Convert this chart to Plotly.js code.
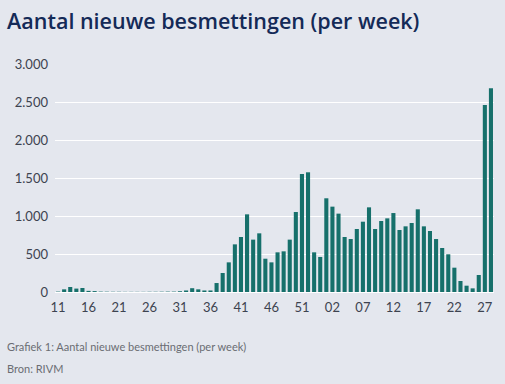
<!DOCTYPE html>
<html>
<head>
<meta charset="utf-8">
<script src="https://cdn.plot.ly/plotly-3.0.1.min.js"></script>
<style>
html,body{margin:0;padding:0;background:#e4e7ee;}
#chart{width:505px;height:384px;}
</style>
</head>
<body>
<div id="chart"></div>
<script>
// Week categories (year-week); 2020 has a split week 53
const weeks = [
  "2020-11","2020-12","2020-13","2020-14","2020-15","2020-16","2020-17","2020-18","2020-19","2020-20",
  "2020-21","2020-22","2020-23","2020-24","2020-25","2020-26","2020-27","2020-28","2020-29","2020-30",
  "2020-31","2020-32","2020-33","2020-34","2020-35","2020-36","2020-37","2020-38","2020-39","2020-40",
  "2020-41","2020-42","2020-43","2020-44","2020-45","2020-46","2020-47","2020-48","2020-49","2020-50",
  "2020-51","2020-52","2020-53","2021-53",
  "2021-01","2021-02","2021-03","2021-04","2021-05","2021-06","2021-07","2021-08","2021-09","2021-10",
  "2021-11","2021-12","2021-13","2021-14","2021-15","2021-16","2021-17","2021-18","2021-19","2021-20",
  "2021-21","2021-22","2021-23","2021-24","2021-25","2021-26","2021-27","2021-28"
];
// New infections per week
const cases = [
  5, 35, 66, 45, 53, 15, 12, 5, 4, 3,
  3, 2, 2, 2, 2, 3, 3, 4, 5, 5,
  10, 20, 50, 35, 20, 20, 118, 250, 390, 627,
  724, 1022, 689, 772, 438, 390, 522, 535, 689, 1053,
  1553, 1575, 522, 461,
  1233, 1123, 1031, 724, 697, 829, 925, 1114, 829, 934,
  969, 1039, 816, 864, 908, 1088, 864, 803, 697, 579,
  496, 320, 145, 83, 48, 224, 2461, 2680
];
// Tick positions and labels
const tickWeeks = ["2020-11","2020-16","2020-21","2020-26","2020-31","2020-36","2020-41","2020-46","2020-51",
                   "2021-02","2021-07","2021-12","2021-17","2021-22","2021-27"];
const tickLabels = ["11","16","21","26","31","36","41","46","51","02","07","12","17","22","27"];

const trace = {
  type: "bar",
  x: weeks,
  y: cases,
  marker: {color: "#16706b"},
  hoverinfo: "x+y"
};

const layout = {
  width: 505, height: 384,
  paper_bgcolor: "#e4e7ee",
  plot_bgcolor: "#e4e7ee",
  separators: ",.",
  margin: {l: 55, r: 11, t: 64, b: 92},
  bargap: 0.33,
  showlegend: false,
  title: {
    text: "Aantal nieuwe besmettingen (per week)",
    xref: "container", x: 0.014, xanchor: "left",
    yref: "container", y: 0.945, yanchor: "middle",
    font: {family: "'Open Sans', sans-serif", size: 21.5, color: "#142a57", weight: 600}
  },
  xaxis: {
    type: "category",
    categoryorder: "array",
    categoryarray: weeks,
    tickmode: "array",
    tickvals: tickWeeks,
    ticktext: tickLabels,
    showgrid: false,
    zeroline: false,
    showline: false,
    ticks: "",
    ticklabelstandoff: 6,
    tickfont: {family: "Lato, 'Open Sans', sans-serif", size: 13, color: "#3d4350"},
    fixedrange: true
  },
  yaxis: {
    range: [0, 3000],
    tickvals: [0, 500, 1000, 1500, 2000, 2500, 3000],
    tickformat: ",.0f",
    showgrid: true,
    gridcolor: "#ffffff",
    gridwidth: 1,
    zeroline: true,
    zerolinecolor: "#ffffff",
    zerolinewidth: 1,
    ticks: "",
    ticklabelstandoff: 6,
    tickfont: {family: "Lato, 'Open Sans', sans-serif", size: 13, color: "#3d4350"},
    fixedrange: true
  },
  annotations: [
    {text: "Grafiek 1: Aantal nieuwe besmettingen (per week)", xref: "paper", yref: "paper",
     x: -0.113, y: -0.24, xanchor: "left", yanchor: "middle", showarrow: false,
     font: {family: "Lato, 'Open Sans', sans-serif", size: 11, color: "#6a6d73"}},
    {text: "Bron: RIVM", xref: "paper", yref: "paper",
     x: -0.113, y: -0.335, xanchor: "left", yanchor: "middle", showarrow: false,
     font: {family: "Lato, 'Open Sans', sans-serif", size: 11, color: "#6a6d73"}}
  ]
};

Plotly.newPlot("chart", [trace], layout, {displayModeBar: false, staticPlot: true});
</script>
</body>
</html>
